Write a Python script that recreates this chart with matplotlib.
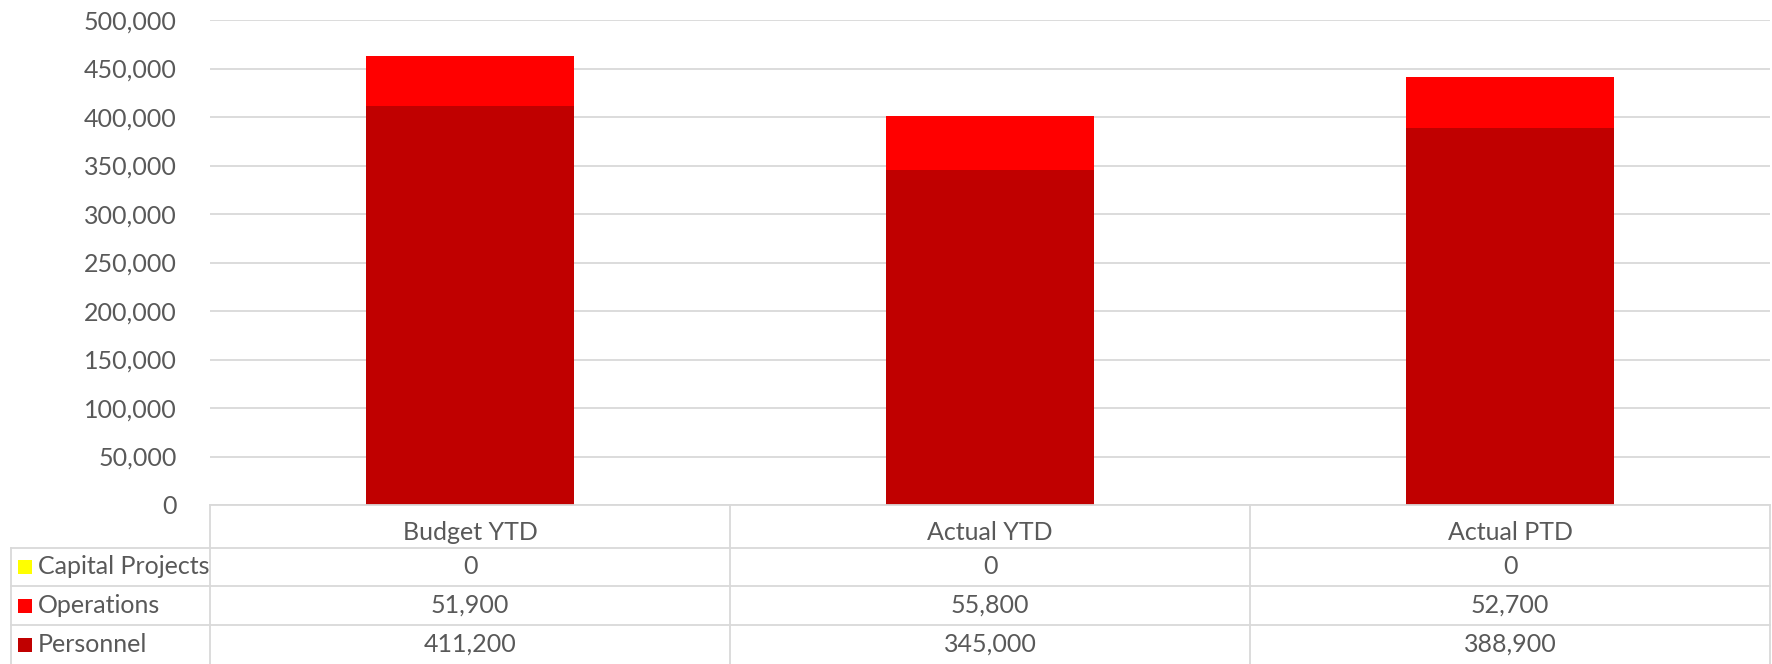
import matplotlib.pyplot as plt
from matplotlib.patches import Rectangle
from matplotlib.lines import Line2D
from matplotlib.ticker import FuncFormatter

# data
categories = ['Budget YTD', 'Actual YTD', 'Actual PTD']
series = ['Capital Projects', 'Operations', 'Personnel']
personnel = [411200, 345000, 388900]
operations = [51900, 55800, 52700]
capital = [0, 0, 0]
colors = {'Capital Projects': '#FFFF00', 'Operations': '#FF0000', 'Personnel': '#C00000'}
values = {'Capital Projects': capital, 'Operations': operations, 'Personnel': personnel}

plt.rcParams['font.family'] = ['Lato', 'DejaVu Sans']
txt = '#595959'
grid = '#D9D9D9'
fs = 18

W, H = 1772, 664
fig = plt.figure(figsize=(W / 100, H / 100), dpi=100)

# plot area in pixels
L, R, T, B = 210, 1770, 20, 505
ax = fig.add_axes([L / W, 1 - B / H, (R - L) / W, (B - T) / H])

x = list(range(len(categories)))
ax.bar(x, personnel, width=0.4, color=colors['Personnel'], zorder=3)
ax.bar(x, operations, width=0.4, bottom=personnel, color=colors['Operations'], zorder=3)
bott = [p + o for p, o in zip(personnel, operations)]
ax.bar(x, capital, width=0.4, bottom=bott, color=colors['Capital Projects'], zorder=3)

ax.set_xlim(-0.5, len(categories) - 0.5)
ax.set_ylim(0, 500000)
ax.set_yticks(range(0, 500001, 50000))
ax.yaxis.set_major_formatter(FuncFormatter(lambda v, p: f'{int(v):,}'))
ax.tick_params(axis='y', length=0, labelsize=fs, labelcolor=txt, pad=24)
ax.set_xticks([])
ax.grid(axis='y', color=grid, linewidth=1.3, zorder=0)
for s in ax.spines.values():
    s.set_visible(False)

# data table below the plot
rows_px = [B, 548, 586, 625, 664]
colw = (R - L) / len(categories)

def fx(px):
    return px / W

def fy(py):
    return 1 - py / H

def hline(x0, x1, y):
    fig.add_artist(Line2D([fx(x0), fx(x1)], [fy(y), fy(y)], color=grid, lw=1.3))

def vline(xp, y0, y1):
    fig.add_artist(Line2D([fx(xp), fx(xp)], [fy(y0), fy(y1)], color=grid, lw=1.3))

hline(L, R, rows_px[0])
for y in rows_px[1:4]:
    hline(11, R, y)
for i in range(len(categories) + 1):
    vline(L + i * colw, rows_px[0], H)
vline(11, rows_px[1], H)

for i, c in enumerate(categories):
    xc = L + (i + 0.5) * colw
    fig.text(fx(xc), fy((rows_px[0] + rows_px[1]) / 2 + 6), c, ha='center', va='center',
             fontsize=fs, color=txt)

for r, s in enumerate(series):
    yc = (rows_px[r + 1] + rows_px[r + 2]) / 2
    fig.add_artist(Rectangle((fx(18), fy(yc + 7)), 14 / W, 14 / H,
                             facecolor=colors[s], edgecolor='none'))
    fig.text(fx(38), fy(yc), s, ha='left', va='center', fontsize=fs, color=txt)
    for i, v in enumerate(values[s]):
        xc = L + (i + 0.5) * colw
        fig.text(fx(xc), fy(yc), f'{v:,}', ha='center', va='center',
                 fontsize=fs, color=txt)

plt.savefig('out.png', dpi=100)
